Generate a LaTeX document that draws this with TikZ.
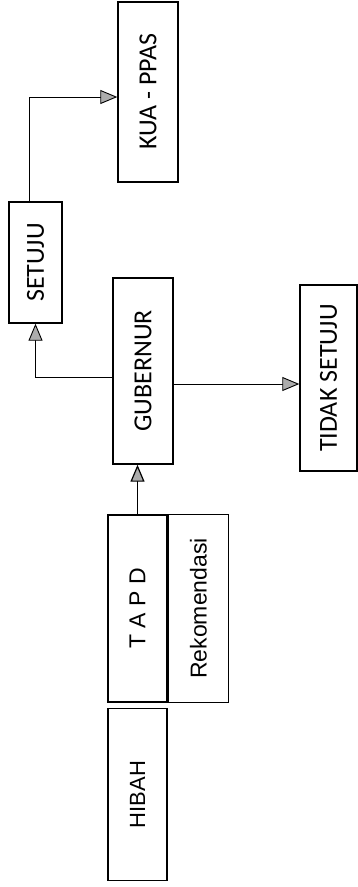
\documentclass[tikz,border=0pt]{standalone}
\usepackage{graphicx}
\usepackage{fontspec}
\setmainfont{Carlito}
\newfontfamily\arialfont{Liberation Sans}
\usetikzlibrary{arrows.meta,positioning}

\begin{document}
\begin{tikzpicture}[
  x=1pt, y=-1pt,
  node distance=0pt,
  box/.style={rectangle, draw, line width=1.4pt, inner sep=0pt,
              font=\fontsize{26}{30}\selectfont},
  abox/.style={box, font=\arialfont\fontsize{23}{27}\selectfont},
  arrow/.style={-{Triangle[length=17pt,width=14pt,fill=gray!65]}, line width=0.9pt}
]
\useasboundingbox (0,0) rectangle (358,887);

\node[box, minimum width=60pt, minimum height=180pt] (kua) at (148,92)
  {\rotatebox{90}{KUA - PPAS}};
\node[box, minimum width=53pt, minimum height=121pt] (set) at (35.5,262.5)
  {\rotatebox{90}{SETUJU}};
\node[box, minimum width=60pt, minimum height=186pt] (gub) at (143,371)
  {\rotatebox{90}{GUBERNUR}};
\node[box, minimum width=57pt, minimum height=186pt] (tdk) at (328.5,378)
  {\rotatebox{90}{TIDAK SETUJU}};
\node[abox, minimum width=59pt, minimum height=187pt] (tapd) at (137.5,608.5)
  {\rotatebox{90}{T A P D}};
\node[abox, minimum width=60pt, minimum height=188pt, right=of tapd] (rek)
  {\rotatebox{90}{Rekomendasi}};
\node[abox, font=\arialfont\fontsize{22}{26}\selectfont,
      minimum width=59pt, minimum height=172pt, below=5pt of tapd] (hib)
  {\rotatebox{90}{HIBAH}};

\draw[arrow] ([xshift=-6pt]set.north) |- ([yshift=-5pt]kua.west);
\draw[arrow] ([yshift=-6pt]gub.west) -| (set.south);
\draw[arrow] ([yshift=-13pt]gub.east) -- ([yshift=-13pt]gub.east -| tdk.west);
\draw[arrow, line width=1.2pt] (tapd.north) -- (tapd.north |- gub.south);
\end{tikzpicture}
\end{document}
